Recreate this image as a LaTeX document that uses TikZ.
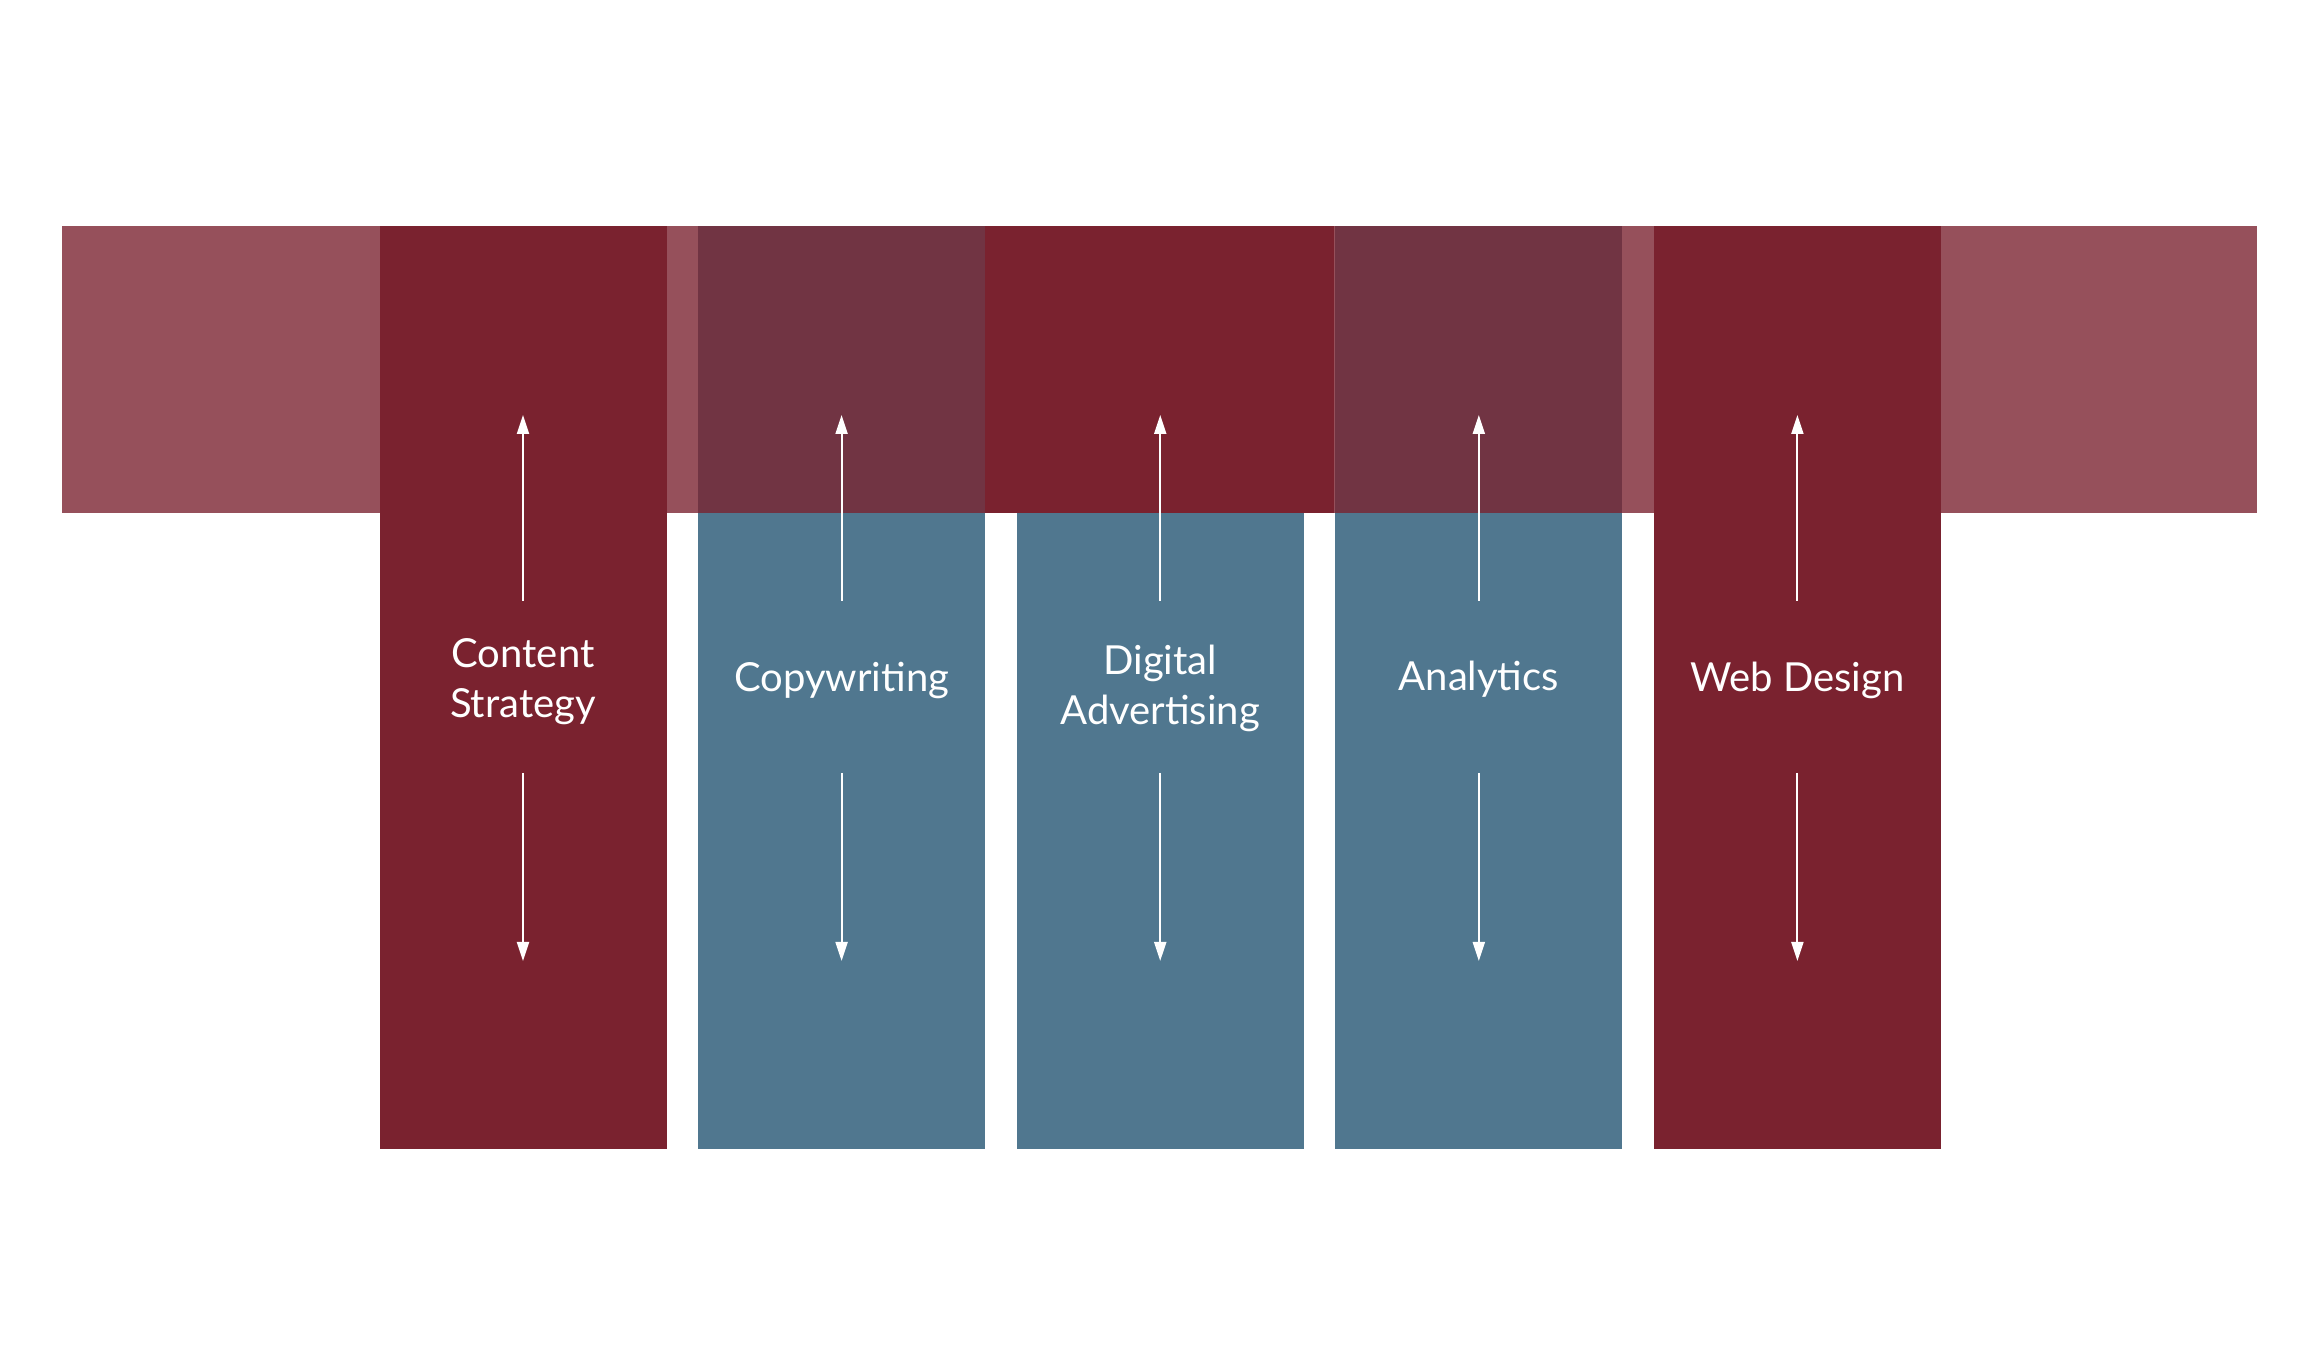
\documentclass[tikz,border=0pt]{standalone}
\usepackage{fontspec}
\setmainfont{Lato}
\usepackage{tikz}
\usetikzlibrary{arrows.meta}
\usepackage{xcolor}
\definecolor{wine}{RGB}{122,34,47}
\definecolor{slate}{RGB}{80,119,143}

\begin{document}
\begin{tikzpicture}[x=0.5pt,y=0.5pt,
    colbox/.style={draw=none,inner sep=0pt,anchor=north,
      minimum width=143.5pt,minimum height=461.5pt},
    coltext/.style={text=white,align=center,
      font=\fontsize{20}{25}\selectfont},
    flow/.style={white,line width=1pt,
      -{Triangle[length=9.5pt,width=6pt]}}]
    % Page
    \useasboundingbox[fill=white] (0,0) rectangle (2316,1360);
    % Blue columns, under the band
    \foreach \i in {2,3,4}
      \node[colbox,fill=slate] (col\i) at ({523+318.6*(\i-1)},1134) {};
    % Band
    \fill[wine,opacity=0.79] (62,847) rectangle (2257,1134);
    % Solid middle of the band
    \fill[wine] (985,847) rectangle (1334,1134);
    % Red columns, over the band
    \foreach \i in {1,5}
      \node[colbox,fill=wine] (col\i) at ({523+318.6*(\i-1)},1134) {};
    % Labels and arrows
    \foreach \i/\txt/\dy in {1/{Content\\Strategy}/228,2/Copywriting/227,
        3/{Digital\\Advertising}/231,4/Analytics/226.5,5/Web Design/227}{
      \node[coltext] (txt\i) at ([yshift=-\dy pt]col\i.north) {\txt};
      \coordinate (uptail\i) at ([yshift=-187.5pt]col\i.north);
      \coordinate (uptip\i) at ([yshift=-94.5pt]col\i.north);
      \coordinate (downtail\i) at ([yshift=-273.5pt]col\i.north);
      \coordinate (downtip\i) at ([yshift=-367.5pt]col\i.north);
      \draw[flow] (uptail\i) -- (uptip\i);
      \draw[flow] (downtail\i) -- (downtip\i);
    }
\end{tikzpicture}
\end{document}
